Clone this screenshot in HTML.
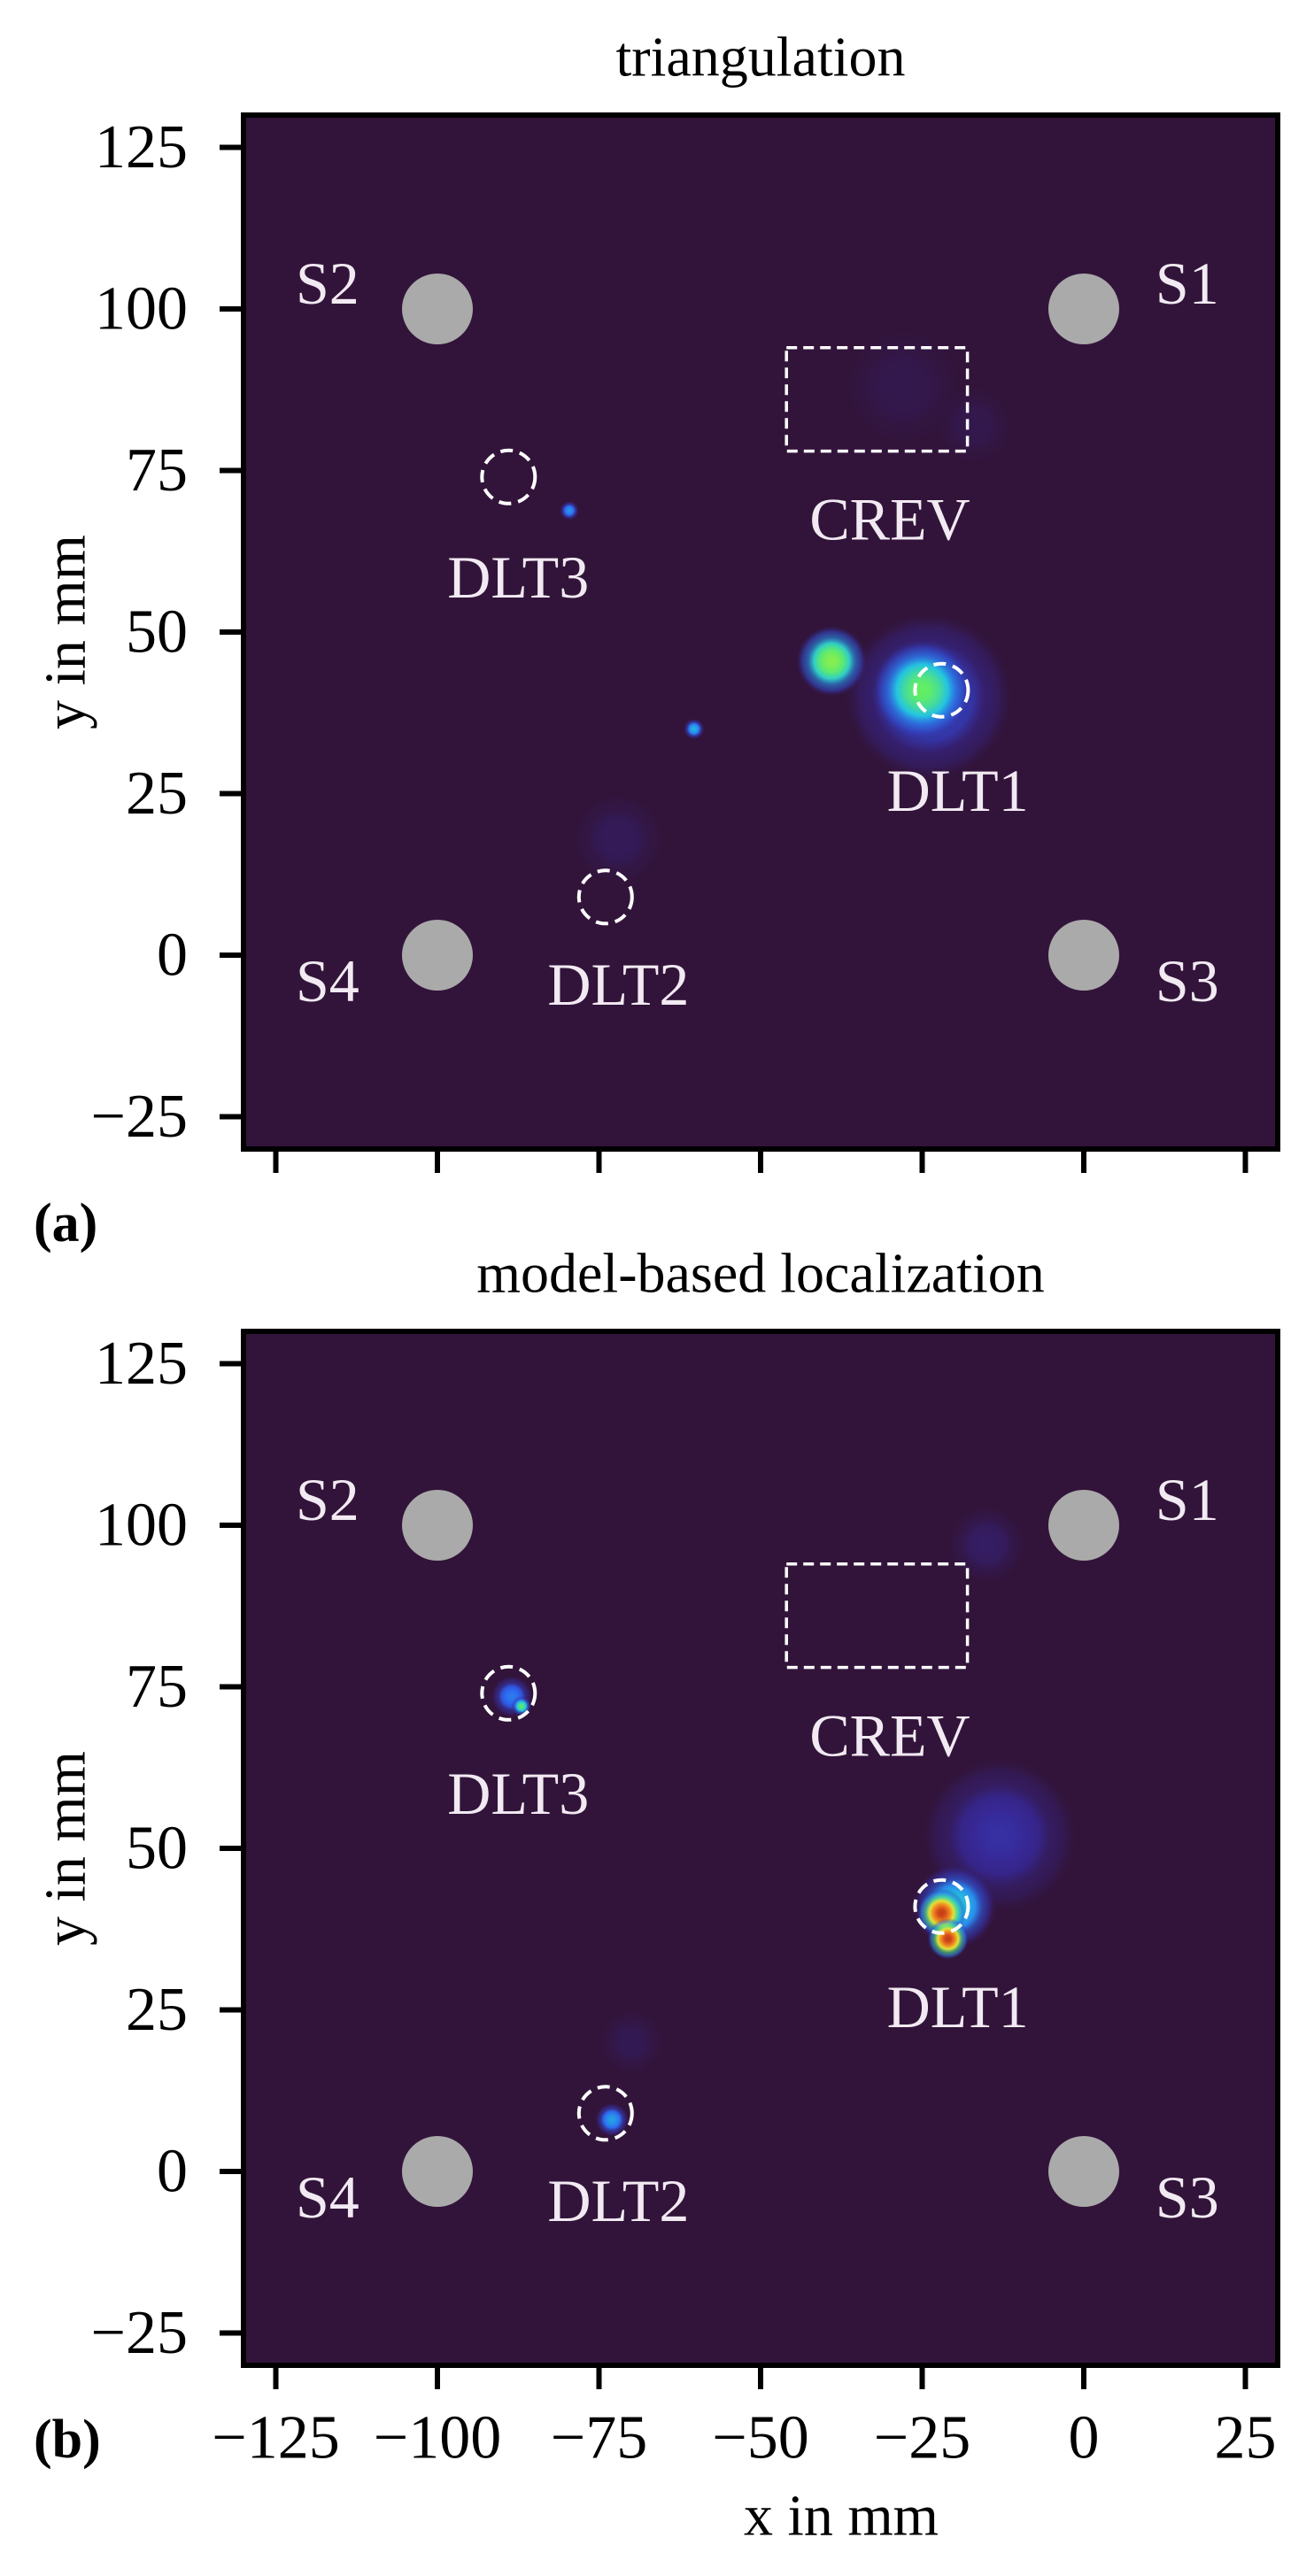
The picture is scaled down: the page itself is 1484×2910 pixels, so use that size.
<!DOCTYPE html>
<html><head><meta charset="utf-8">
<style>
html,body{margin:0;padding:0;background:#fff;}
svg{display:block;}
text{font-family:"Liberation Serif","DejaVu Serif",serif;}
</style></head>
<body>
<svg id="fig" width="1484" height="2910" viewBox="0 0 1484 2910" xmlns="http://www.w3.org/2000/svg">
<defs id="defs"></defs>
</svg>
<script>
// ---- data ----
const xTicks = [-125, -100, -75, -50, -25, 0, 25];
const yTicks = [-25, 0, 25, 50, 75, 100, 125];
const sensorNames = ["S1", "S2", "S3", "S4"];
const sensorX = [0, -100, 0, -100];
const sensorY = [100, 100, 0, 0];
const sensorLabelX = [16, -117, 16, -117];
const sensorLabelY = [104, 104, -4, -4];
const dltNames = ["DLT1", "DLT2", "DLT3"];
const dltX = [-22, -74, -89];
const dltY = [41, 9, 74];
const dltLabelX = [-19.5, -72, -87.5];
const dltLabelY = [25.5, -4.5, 58.5];
const crevX = [-46, -18];
const crevY = [78, 94];
const topBlobX = [-24, -72, -28, -17, -25, -39, -60.3, -79.6];
const topBlobY = [40, 18, 88, 82, 41, 45.5, 35, 68.8];
const topBlobR = [13, 7, 9, 6, 8, 5.5, 1.6, 1.5];
const topBlobPeak = [0.28, 0.06, 0.04, 0.04, 0.62, 0.66, 0.45, 0.4];
const botBlobX = [-13, -70, -15, -20, -22, -21, -88.5, -87, -73];
const botBlobY = [52, 20, 97, 41, 40, 36, 73.5, 72, 8];
const botBlobR = [12, 5, 6, 6.5, 3.8, 3.2, 3.2, 1.5, 2.6];
const botBlobPeak = [0.2, 0.05, 0.08, 0.5, 0.96, 0.96, 0.36, 0.6, 0.42];

// ---- layout ----
const NS = "http://www.w3.org/2000/svg";
const svg = document.getElementById("fig");
const defs = document.getElementById("defs");
const L = 275, R = 1443, X0 = -130, X1 = 30, Y0 = -30, Y1 = 130;
const panels = [{top:130, bottom:1298, blobs:[topBlobX,topBlobY,topBlobR,topBlobPeak], id:"a", title:"triangulation", xlabels:false},
                {top:1504, bottom:2672, blobs:[botBlobX,botBlobY,botBlobR,botBlobPeak], id:"b", title:"model-based localization", xlabels:true}];
function sx(v){return L + (v - X0) / (X1 - X0) * (R - L);}
function mk(tag, attrs, parent){const e=document.createElementNS(NS,tag);for(const k in attrs)e.setAttribute(k,attrs[k]);(parent||svg).appendChild(e);return e;}
const cstops=[[0,[50,20,58]],[0.18,[55,40,150]],[0.32,[45,100,240]],[0.48,[35,195,225]],[0.62,[100,240,95]],[0.76,[240,225,50]],[0.88,[240,120,30]],[1,[175,25,20]]];
function cmap(t){for(let i=1;i<cstops.length;i++){if(t<=cstops[i][0]){const a=cstops[i-1],b=cstops[i];const f=(t-a[0])/(b[0]-a[0]);return "rgb("+a[1].map((c,j)=>Math.round(c+(b[1][j]-c)*f)).join(",")+")";}}return "rgb(175,25,20)";}
let gid=0;

panels.forEach((p, pi) => {
  const sy = v => p.bottom - (v - Y0) / (Y1 - Y0) * (p.bottom - p.top);
  const sc = (p.bottom - p.top) / (Y1 - Y0);
  const g = mk("g", {});
  
  
  const bg = mk("rect", {x:L, y:p.top, width:R-L, height:p.bottom-p.top, fill:"#32143a"}, g);
  
  
  const [bx,by,br,bp] = p.blobs;
  for (let i = 0; i < bx.length; i++) {
    const id = "gr" + (gid++);
    const rg = mk("radialGradient", {id:id}, defs);
    for (let k = 0; k <= 6; k++) {
      const t = k / 6;
      const lvl = bp[i] * (1 - t * t * 0.9);
      mk("stop", {offset:t, "stop-color":cmap(lvl), "stop-opacity": k === 6 ? 0 : (k >= 4 ? 0.6 : 1)}, rg);
    }
    const c = mk("circle", {cx:sx(bx[i]), cy:sy(by[i]), r:br[i]*sc, fill:"url(#"+id+")"}, g);
    
    
  }
  for (let i = 0; i < sensorNames.length; i++) {
    const c = mk("circle", {cx:sx(sensorX[i]), cy:sy(sensorY[i]), r:40, fill:"#aaaaaa"}, g);
    
    
    const t = mk("text", {x:sx(sensorLabelX[i]), y:sy(sensorLabelY[i]), fill:"#f2eaf2", "font-size":68, "text-anchor":"middle", "dominant-baseline":"central"}, g);
    t.textContent = sensorNames[i];
    
    
  }
  for (let i = 0; i < dltNames.length; i++) {
    const c = mk("circle", {cx:sx(dltX[i]), cy:sy(dltY[i]), r:30, fill:"none", stroke:"#ffffff", "stroke-width":4, "stroke-dasharray":"14 8"}, g);
    
    
    const t = mk("text", {x:sx(dltLabelX[i]), y:sy(dltLabelY[i]), fill:"#f2eaf2", "font-size":68, "text-anchor":"middle", "dominant-baseline":"central"}, g);
    t.textContent = dltNames[i];
    
    
  }
  const cr = mk("rect", {x:sx(crevX[0]), y:sy(crevY[1]), width:sx(crevX[1])-sx(crevX[0]), height:sy(crevY[0])-sy(crevY[1]), fill:"none", stroke:"#ffffff", "stroke-width":3.5, "stroke-dasharray":"12 7"}, g);
  
  
  const ct = mk("text", {x:sx(-30), y:sy(67.5), fill:"#f2eaf2", "font-size":68, "text-anchor":"middle", "dominant-baseline":"central"}, g);
  ct.textContent = "CREV";
  
  
  const fr = mk("rect", {x:L, y:p.top, width:R-L, height:p.bottom-p.top, fill:"none", stroke:"#000", "stroke-width":6}, g);
  
  
  yTicks.forEach(v => {
    const y = sy(v);
    const tk = mk("line", {x1:L-27, x2:L, y1:y, y2:y, stroke:"#000", "stroke-width":6}, g);
    
    
    const t = mk("text", {x:212, y:y, "font-size":70, "text-anchor":"end", "dominant-baseline":"central"}, g);
    t.textContent = v < 0 ? "\u2212" + (-v) : String(v);
    
    
  });
  xTicks.forEach(v => {
    const x = sx(v);
    const tk = mk("line", {x1:x, x2:x, y1:p.bottom, y2:p.bottom+27, stroke:"#000", "stroke-width":6}, g);
    
    
    if (p.xlabels) {
      const t = mk("text", {x:x, y:p.bottom+82, "font-size":70, "text-anchor":"middle", "dominant-baseline":"central"}, g);
      t.textContent = v < 0 ? "\u2212" + (-v) : String(v);
      
      
    }
  });
  const tt = mk("text", {x:(L+R)/2, y:p.top-66, "font-size":64, "text-anchor":"middle", "dominant-baseline":"central"}, g);
  tt.textContent = p.title;
  
  
  const yl = mk("text", {x:0, y:0, "font-size":66, "text-anchor":"middle", "dominant-baseline":"central", transform:"translate(74," + ((p.top+p.bottom)/2) + ") rotate(-90)"}, g);
  yl.textContent = "y in mm";
  
  
  const pl = mk("text", {x:38, y:p.bottom+104, "font-size":62, "font-weight":"bold"}, g);
  pl.textContent = "(" + p.id + ")";
  
  
});
const xl = mk("text", {x:950, y:2842, "font-size":66, "text-anchor":"middle", "dominant-baseline":"central"});
xl.textContent = "x in mm";


</script>
</body></html>
